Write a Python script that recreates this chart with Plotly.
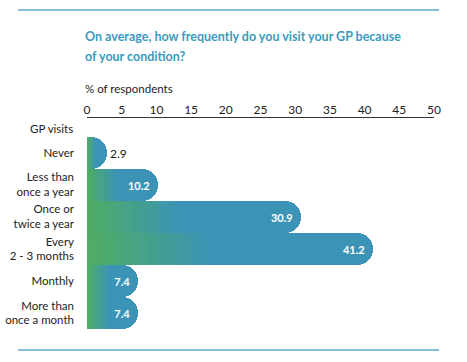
import plotly.graph_objects as go

# ---- data ----
categories = ["Never", "Less than<br>once a year", "Once or<br>twice a year",
              "Every<br>2 - 3 months", "Monthly", "More than<br>once a month"]
values = [2.9, 10.2, 30.9, 41.2, 7.4, 7.4]
value_labels = ["2.9", "10.2", "30.9", "41.2", "7.4", "7.4"]
label_positions = ["outside", "inside", "inside", "inside", "inside", "inside"]
x_ticks = [0, 5, 10, 15, 20, 25, 30, 35, 40, 45, 50]
title_lines = ["On average, how frequently do you visit your GP because",
               "of your condition?"]
axis_title = "% of respondents"
row_header = "GP visits"

W, H = 467, 362
L, R, T, B = 87, 33, 118, 33
pw, ph = W - L - R, H - T - B

def px_x(px):
    return (px - L) / pw

def px_y(py):
    return (H - B - py) / ph

TEAL = (59, 148, 182)
GREEN = (78, 172, 100)

def mix(c1, c2, t):
    return "rgb(%d,%d,%d)" % tuple(round(a + (b - a) * t) for a, b in zip(c1, c2))

FONT = "Lato"
fig = go.Figure()

# base bars
fig.add_trace(go.Bar(
    x=values, y=categories, orientation="h",
    marker=dict(color=mix(TEAL, TEAL, 0), cornerradius="50%", line=dict(width=0)),
    width=1.0, hoverinfo="skip", showlegend=False,
))

# gradient overlay layers (styling only, derived from the same values)
n = 16
F = 0.42
for j in range(n, 0, -1):
    frac = F * j / n
    fig.add_trace(go.Bar(
        x=[v * frac for v in values], y=categories, orientation="h",
        marker=dict(color=mix(TEAL, GREEN, 1 - (j - 1) / n), cornerradius=0, line=dict(width=0)),
        width=1.0, hoverinfo="skip", showlegend=False,
    ))

# value labels on top
fig.add_trace(go.Bar(
    x=values, y=categories, orientation="h",
    marker=dict(color="rgba(0,0,0,0)", line=dict(width=0)),
    width=1.0,
    text=value_labels, textposition=label_positions,
    texttemplate=["%{text}", "%{text}\u00a0\u00a0", "%{text}\u00a0\u00a0",
                  "%{text}\u00a0\u00a0", "%{text}\u00a0\u00a0", "%{text}\u00a0\u00a0"],
    insidetextanchor="end",
    insidetextfont=dict(family=FONT, size=11, color="white", weight=700),
    outsidetextfont=dict(family=FONT, size=12, color="#222222"),
    cliponaxis=False, hoverinfo="skip", showlegend=False,
))

title_font = dict(family=FONT, size=12.5, color="#3a9bbf", weight=700)
label_size = 11.5

fig.update_layout(
    width=W, height=H,
    margin=dict(l=L, r=R, t=T, b=B, pad=0, autoexpand=False),
    barmode="overlay", bargap=0,
    paper_bgcolor="white", plot_bgcolor="white",
    font=dict(family=FONT, color="#222222"),
    xaxis=dict(side="top", range=[0, 50], tickvals=x_ticks,
               ticktext=[str(t) for t in x_ticks], automargin=False,
               showgrid=False, zeroline=False, showline=True,
               linecolor="#333333", linewidth=1, ticks="", ticklabelstandoff=-2,
               tickfont=dict(family=FONT, size=12, color="#222222"),
               fixedrange=True),
    yaxis=dict(categoryorder="array", categoryarray=categories, automargin=False,
               range=[5.5, -1.09], showgrid=False, zeroline=False,
               showline=False, ticks="", ticklabelstandoff=12,
               tickfont=dict(family=FONT, size=label_size, color="#222222"),
               fixedrange=True),
    annotations=[
        dict(text=title_lines[0], xref="paper", yref="paper", x=px_x(83), y=px_y(37),
             xanchor="left", yanchor="middle", align="left", showarrow=False,
             font=title_font),
        dict(text=title_lines[1], xref="paper", yref="paper", x=px_x(83), y=px_y(56),
             xanchor="left", yanchor="middle", align="left", showarrow=False,
             font=title_font),
        dict(text=axis_title, xref="paper", yref="paper", x=px_x(83), y=px_y(88),
             xanchor="left", yanchor="middle", align="left", showarrow=False,
             font=dict(family=FONT, size=11.5, color="#222222")),
        dict(text=row_header, xref="paper", yref="paper", x=px_x(75), y=px_y(128),
             xanchor="right", yanchor="middle", align="right", showarrow=False,
             font=dict(family=FONT, size=label_size, color="#222222")),
    ],
    shapes=[
        dict(type="line", xref="paper", yref="paper", x0=px_x(18), x1=px_x(439),
             y0=px_y(10), y1=px_y(10), line=dict(color="#5aa8c8", width=1.5)),
        dict(type="line", xref="paper", yref="paper", x0=px_x(18), x1=px_x(439),
             y0=px_y(350), y1=px_y(350), line=dict(color="#5aa8c8", width=1.5)),
    ],
)

fig.write_html("out.html", config={"displayModeBar": False},
               post_script="document.body.style.margin='0';")
